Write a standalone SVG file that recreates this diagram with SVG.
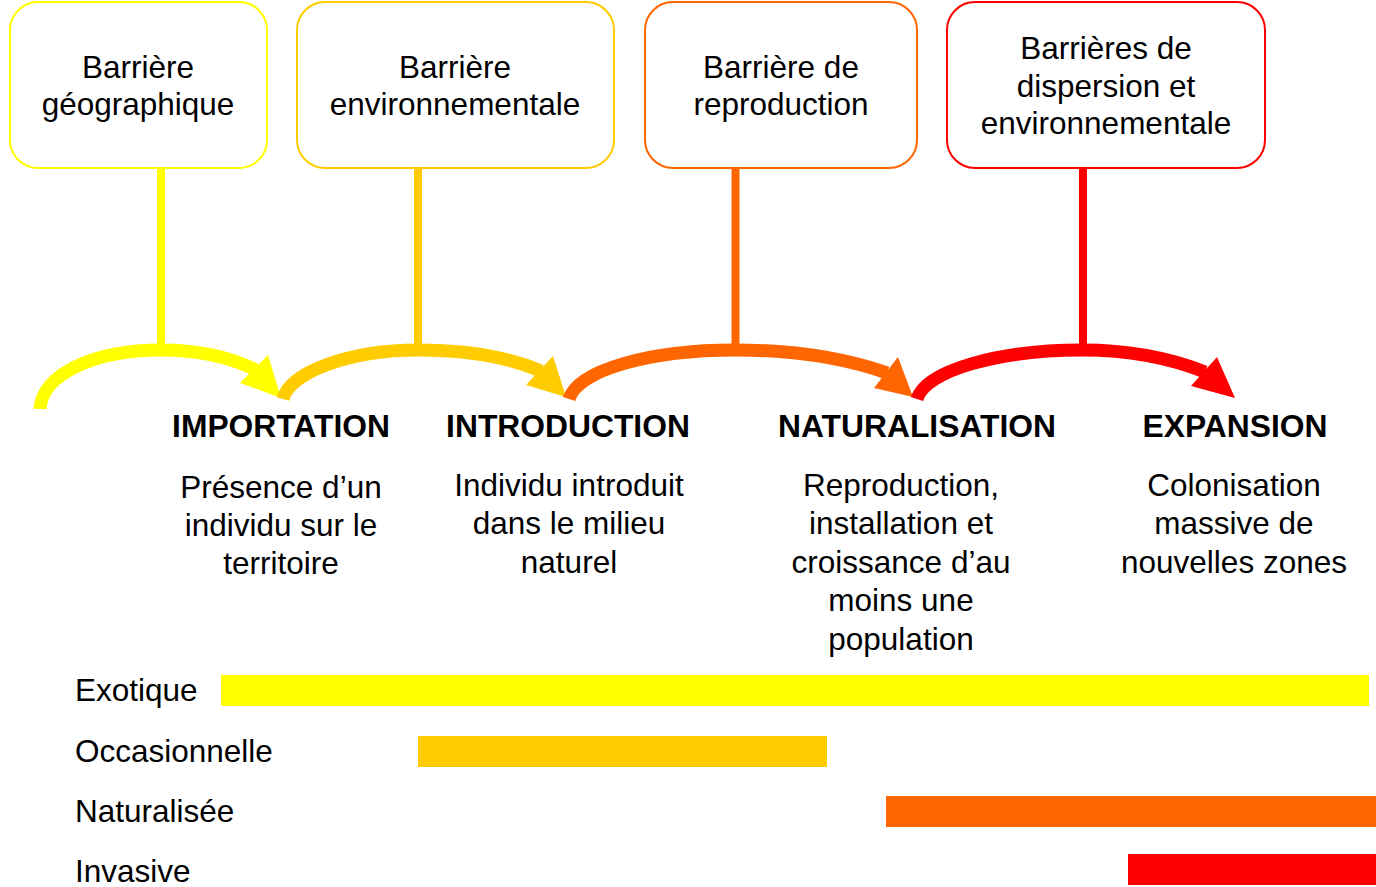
<svg xmlns="http://www.w3.org/2000/svg" width="1376" height="887" viewBox="0 0 1376 887">
<style>
text{font-family:"Liberation Sans",Arial,sans-serif;fill:#000;text-anchor:middle}
.t{font-size:31.5px}
.h{font-size:31.8px;font-weight:bold}
.l{font-size:31.5px;text-anchor:start}
.box{fill:#fff;stroke-width:2}
.arc{fill:none;stroke-width:13}
.stem{stroke-width:8}
</style>
<rect width="1376" height="887" fill="#fff"/>
<g id="connectors">
<line class="stem" x1="161" y1="168" x2="161" y2="346" stroke="#FFFF00"/>
<line class="stem" x1="418" y1="168" x2="418" y2="346" stroke="#FFCC00"/>
<line class="stem" x1="735.5" y1="168" x2="735.5" y2="346" stroke="#FF6600"/>
<line class="stem" x1="1083" y1="168" x2="1083" y2="346" stroke="#FF0000"/>
<path class="arc" stroke="#FFFF00" d="M 40 409 C 42 374 95 350 161 350 C 200 350 232 358 256 370"/>
<polygon fill="#FFFF00" points="281,398 268,355 240,383"/>
<path class="arc" stroke="#FFCC00" d="M 283 399 C 290 372 350 350 418 350 C 470 350 510 358 541 371"/>
<polygon fill="#FFCC00" points="566,397 553,356 526,385"/>
<path class="arc" stroke="#FF6600" d="M 569 399 C 578 370 650 350 735 350 C 800 350 850 360 887 373"/>
<polygon fill="#FF6600" points="913,397 898,357 874,388"/>
<path class="arc" stroke="#FF0000" d="M 917 399 C 926 370 1000 350 1082 350 C 1135 350 1175 360 1205 372"/>
<polygon fill="#FF0000" points="1235,398 1217,357 1191,386"/>
</g>
<g id="box1">
<rect class="box" x="10" y="2" width="257" height="166" rx="28" stroke="#FFFF00"/>
<text class="t" x="138" y="78">Barrière</text>
<text class="t" x="138" y="115">géographique</text>
</g>
<g id="box2">
<rect class="box" x="297" y="2" width="317" height="166" rx="28" stroke="#FFCC00"/>
<text class="t" x="455" y="78">Barrière</text>
<text class="t" x="455" y="115">environnementale</text>
</g>
<g id="box3">
<rect class="box" x="645" y="2" width="272" height="166" rx="28" stroke="#FF6600"/>
<text class="t" x="781" y="78">Barrière de</text>
<text class="t" x="781" y="115">reproduction</text>
</g>
<g id="box4">
<rect class="box" x="947" y="2" width="318" height="166" rx="28" stroke="#FF0000"/>
<text class="t" x="1106" y="59">Barrières de</text>
<text class="t" x="1106" y="97">dispersion et</text>
<text class="t" x="1106" y="134">environnementale</text>
</g>
<g id="stage1">
<text class="h" x="281" y="437">IMPORTATION</text>
<text class="t" x="281" y="498">Présence d’un</text>
<text class="t" x="281" y="536">individu sur le</text>
<text class="t" x="281" y="574">territoire</text>
</g>
<g id="stage2">
<text class="h" x="568" y="437">INTRODUCTION</text>
<text class="t" x="569" y="496">Individu introduit</text>
<text class="t" x="569" y="534">dans le milieu</text>
<text class="t" x="569" y="573">naturel</text>
</g>
<g id="stage3">
<text class="h" x="917" y="437">NATURALISATION</text>
<text class="t" x="901" y="496">Reproduction,</text>
<text class="t" x="901" y="534">installation et</text>
<text class="t" x="901" y="573">croissance d’au</text>
<text class="t" x="901" y="611">moins une</text>
<text class="t" x="901" y="650">population</text>
</g>
<g id="stage4">
<text class="h" x="1235" y="437">EXPANSION</text>
<text class="t" x="1234" y="496">Colonisation</text>
<text class="t" x="1234" y="534">massive de</text>
<text class="t" x="1234" y="573">nouvelles zones</text>
</g>
<g id="status">
<text class="l" x="75" y="701">Exotique</text>
<rect x="221" y="675" width="1148" height="31" fill="#FFFF00"/>
<text class="l" x="75" y="762">Occasionnelle</text>
<rect x="418" y="736" width="409" height="31" fill="#FFCC00"/>
<text class="l" x="75" y="822">Naturalisée</text>
<rect x="886" y="796" width="490" height="31" fill="#FF6600"/>
<text class="l" x="75" y="882">Invasive</text>
<rect x="1128" y="854" width="248" height="31" fill="#FF0000"/>
</g>
</svg>
